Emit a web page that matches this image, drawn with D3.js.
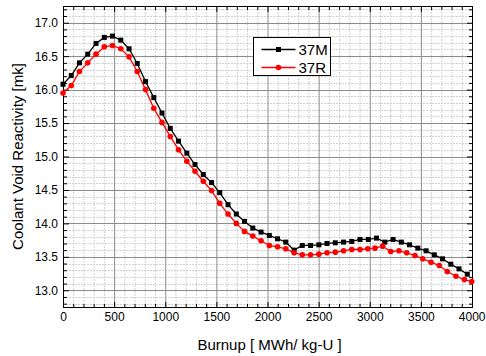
<!DOCTYPE html>
<html>
<head>
<meta charset="utf-8">
<script src="https://cdn.jsdelivr.net/npm/d3@7"></script>
<style>
  body { margin: 0; background: #fff; }
  text { font-family: "Liberation Sans", Arial, sans-serif; }
</style>
</head>
<body>
<div id="chart"></div>
<script>
var burnupM = [0, 81, 161, 242, 323, 404, 484, 565, 646, 726, 807, 888, 968, 1049, 1130, 1211, 1291, 1372,
    1453, 1533, 1614, 1695, 1775, 1856, 1937, 2018, 2098, 2179, 2260, 2340, 2421, 2502, 2582, 2663, 2744,
    2824, 2905, 2986, 3066, 3147, 3228, 3309, 3389, 3470, 3551, 3631, 3712, 3793, 3873, 3954];
var valuesM = [16.08, 16.21, 16.40, 16.53, 16.69, 16.78, 16.80, 16.74, 16.61, 16.39, 16.12, 15.88, 15.65,
    15.42, 15.23, 15.05, 14.88, 14.73, 14.61, 14.46, 14.28, 14.14, 14.03, 13.93, 13.87, 13.82, 13.77, 13.72,
    13.60, 13.67, 13.67, 13.68, 13.70, 13.71, 13.72, 13.73, 13.76, 13.76, 13.78, 13.72, 13.76, 13.72, 13.68,
    13.63, 13.59, 13.53, 13.47, 13.39, 13.32, 13.24];
var burnupR = [0, 81, 161, 242, 323, 404, 484, 565, 646, 726, 807, 888, 968, 1049, 1130, 1211, 1291, 1372,
    1453, 1533, 1614, 1695, 1775, 1856, 1937, 2018, 2098, 2179, 2260, 2340, 2421, 2502, 2582, 2663, 2744,
    2824, 2905, 2980, 3051, 3126, 3205, 3286, 3361, 3442, 3518, 3599, 3680, 3758, 3843, 3925, 3997];
var valuesR = [15.95, 16.06, 16.27, 16.40, 16.53, 16.64, 16.66, 16.61, 16.49, 16.27, 16.00, 15.72, 15.51,
    15.30, 15.10, 14.93, 14.78, 14.63, 14.49, 14.30, 14.14, 14.00, 13.88, 13.81, 13.74, 13.67, 13.65, 13.62,
    13.56, 13.53, 13.53, 13.54, 13.56, 13.57, 13.59, 13.61, 13.61, 13.62, 13.63, 13.66, 13.58, 13.59, 13.56,
    13.52, 13.47, 13.42, 13.37, 13.28, 13.21, 13.16, 13.13];
var seriesNames = ['37M', '37R'];
var xTicks = [0, 500, 1000, 1500, 2000, 2500, 3000, 3500, 4000];
var yTicks = [13.0, 13.5, 14.0, 14.5, 15.0, 15.5, 16.0, 16.5, 17.0];

var width = 486, height = 356;
var margin = { top: 6, right: 14, bottom: 49, left: 63 };
var x0 = margin.left, x1 = width - margin.right, y0 = height - margin.bottom, y1 = margin.top;

var svg = d3.select('#chart').append('svg')
    .attr('width', width)
    .attr('height', height);

var x = d3.scaleLinear().domain([0, 4000]).range([x0, x1]);
var y = d3.scaleLinear().domain([12.75, 17.25]).range([y0, y1]);

var xMinor = d3.range(100, 4000, 100).filter(d => d % 500 !== 0);
var yMinor = d3.range(128, 173).map(d => d / 10).filter(d => Math.round(d * 10) % 5 !== 0);

// grid
var grid = svg.append('g');
grid.selectAll('.vminor').data(xMinor).enter().append('line')
    .attr('x1', d => x(d) + 0.5).attr('x2', d => x(d) + 0.5)
    .attr('y1', y1).attr('y2', y0)
    .attr('stroke', '#d2d2d2').attr('stroke-dasharray', '2,1');
grid.selectAll('.hminor').data(yMinor).enter().append('line')
    .attr('y1', d => Math.round(y(d)) + 0.5).attr('y2', d => Math.round(y(d)) + 0.5)
    .attr('x1', x0).attr('x2', x1)
    .attr('stroke', '#d2d2d2').attr('stroke-dasharray', '2,1');
grid.selectAll('.vmajor').data(xTicks.slice(1, -1)).enter().append('line')
    .attr('x1', d => x(d) + 0.5).attr('x2', d => x(d) + 0.5)
    .attr('y1', y1).attr('y2', y0)
    .attr('stroke', '#8c8c8c');
grid.selectAll('.hmajor').data(yTicks).enter().append('line')
    .attr('y1', d => Math.round(y(d)) + 0.5).attr('y2', d => Math.round(y(d)) + 0.5)
    .attr('x1', x0).attr('x2', x1)
    .attr('stroke', '#8c8c8c');

// frame
svg.append('rect')
    .attr('x', x0 + 0.5).attr('y', y1 + 0.5)
    .attr('width', x1 - x0).attr('height', y0 - y1)
    .attr('fill', 'none').attr('stroke', '#000');

// axes with inward ticks
function styleAxis(g) {
    g.select('.domain').remove();
    g.selectAll('line').attr('stroke', '#000');
    g.selectAll('text').attr('font-size', 12).attr('fill', '#000')
        .style('font-family', '"Liberation Sans", Arial, sans-serif');
}
svg.append('g').attr('transform', `translate(0,${y0})`)
    .call(d3.axisBottom(x).tickValues(xTicks).tickSize(-5).tickPadding(5).tickFormat(d3.format('d')))
    .call(styleAxis);
svg.append('g').attr('transform', `translate(0,${y0})`)
    .call(d3.axisBottom(x).tickValues(xMinor).tickSize(-3).tickFormat(''))
    .call(styleAxis);
svg.append('g').attr('transform', `translate(0,${y1 + 1})`)
    .call(d3.axisTop(x).tickValues(xTicks).tickSize(-5).tickFormat(''))
    .call(styleAxis);
svg.append('g').attr('transform', `translate(0,${y1 + 1})`)
    .call(d3.axisTop(x).tickValues(xMinor).tickSize(-3).tickFormat(''))
    .call(styleAxis);
svg.append('g').attr('transform', `translate(${x0 + 1},0)`)
    .call(d3.axisLeft(y).tickValues(yTicks).tickSize(-5).tickPadding(6).tickFormat(d3.format('.1f')))
    .call(styleAxis);
svg.append('g').attr('transform', `translate(${x0 + 1},0)`)
    .call(d3.axisLeft(y).tickValues(yMinor).tickSize(-3).tickFormat(''))
    .call(styleAxis);
svg.append('g').attr('transform', `translate(${x1},0)`)
    .call(d3.axisRight(y).tickValues(yTicks).tickSize(-5).tickFormat(''))
    .call(styleAxis);
svg.append('g').attr('transform', `translate(${x1},0)`)
    .call(d3.axisRight(y).tickValues(yMinor).tickSize(-3).tickFormat(''))
    .call(styleAxis);

// keep the last x label inside the window
svg.selectAll('text').filter(function() { return this.textContent === '4000'; })
    .attr('text-anchor', 'end').attr('dx', '13');

// series
var line = d3.line().x(d => x(d[0])).y(d => y(d[1]));
var dataM = d3.zip(burnupM, valuesM);
var dataR = d3.zip(burnupR, valuesR);

svg.append('path').datum(dataM).attr('d', line)
    .attr('fill', 'none').attr('stroke', '#000').attr('stroke-width', 1.3);
svg.append('g').selectAll('rect').data(dataM).enter().append('rect')
    .attr('x', d => x(d[0]) - 2.5).attr('y', d => y(d[1]) - 2.5)
    .attr('width', 5).attr('height', 5).attr('fill', '#000');

svg.append('path').datum(dataR).attr('d', line)
    .attr('fill', 'none').attr('stroke', '#ff0000').attr('stroke-width', 1.3);
svg.append('g').selectAll('circle').data(dataR).enter().append('circle')
    .attr('cx', d => x(d[0])).attr('cy', d => y(d[1]))
    .attr('r', 2.8).attr('fill', '#ff0000');

// legend
var lg = svg.append('g').attr('transform', 'translate(253.5,37.5)');
lg.append('rect').attr('width', 77).attr('height', 38)
    .attr('fill', '#fff').attr('stroke', '#000');
[{ c: '#000', sq: true }, { c: '#ff0000', sq: false }].forEach(function(s, i) {
    var ly = 12 + i * 18;
    lg.append('line').attr('x1', 8).attr('x2', 42).attr('y1', ly).attr('y2', ly)
        .attr('stroke', s.c).attr('stroke-width', 1.3);
    if (s.sq) {
        lg.append('rect').attr('x', 22.5).attr('y', ly - 2.5).attr('width', 5).attr('height', 5).attr('fill', s.c);
    } else {
        lg.append('circle').attr('cx', 25).attr('cy', ly).attr('r', 2.8).attr('fill', s.c);
    }
    lg.append('text').attr('x', 45).attr('y', ly + 5.5)
        .attr('font-size', 15).text(seriesNames[i]);
});

// axis titles
svg.append('text')
    .attr('x', (x0 + x1) / 2 + 2).attr('y', 350)
    .attr('text-anchor', 'middle').attr('font-size', 15)
    .text('Burnup [ MWh/ kg-U ]');
svg.append('text')
    .attr('transform', `translate(23,${(y0 + y1) / 2}) rotate(-90)`)
    .attr('text-anchor', 'middle').attr('font-size', 15)
    .text('Coolant Void Reactivity [mk]');
</script>
</body>
</html>
